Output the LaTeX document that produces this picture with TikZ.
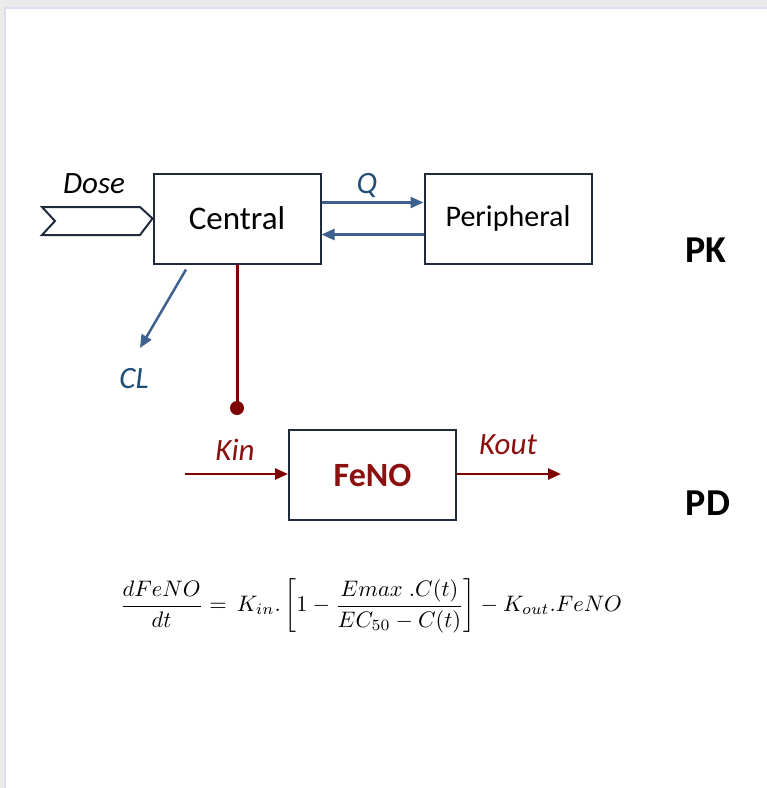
\documentclass[tikz,border=0pt]{standalone}
\usepackage{fontspec}
\setmainfont{Carlito}
\usepackage{amsmath}
\usepackage{graphicx}
\usetikzlibrary{arrows.meta,calc}
\definecolor{boxline}{HTML}{1F2B3A}
\definecolor{qblue}{HTML}{1F4E79}
\definecolor{arrblue}{HTML}{3E6290}
\definecolor{dred}{HTML}{7F0000}
\definecolor{tred}{HTML}{8B1010}
\definecolor{shadow}{HTML}{EBEBEB}
\definecolor{frameline}{HTML}{DCDFF0}
\tikzset{
  compbox/.style={draw=boxline, line width=2pt, fill=white, minimum width=167pt, minimum height=90pt, inner sep=0pt},
  bluearrow/.style={draw=arrblue, line width=2.5pt, -{Triangle[length=13pt,width=11pt]}},
  redarrow/.style={draw=dred, line width=2.5pt, -{Triangle[length=13pt,width=11pt]}},
  bluelabel/.style={text=qblue, font=\fontsize{31}{34}\selectfont\itshape},
  redlabel/.style={text=tred, font=\fontsize{31}{34}\selectfont\itshape},
  sidelabel/.style={text=black, font=\fontsize{38}{40}\selectfont\bfseries}
}
\begin{document}
\begin{tikzpicture}[x=1pt,y=-1pt]
\useasboundingbox (0,0) rectangle (767,788);
\fill[shadow] (0,0) rectangle (767,788);
\filldraw[fill=white, draw=frameline, line width=2pt] (5,8) rectangle (770,792);

\node[compbox, font=\fontsize{33}{36}\selectfont] (central) at (237,218.5) {Central};
\node[compbox, font=\fontsize{30}{33}\selectfont] (peri) at (508,218.5) {Peripheral};
\node[compbox, text=tred, font=\fontsize{34}{36}\selectfont\bfseries] (feno) at (372.5,475) {FeNO};

% Dose chevron
\draw[boxline, line width=2pt, fill=white, line join=miter]
  (42,207) -- (140,207) -- (central.west) -- (140,235) -- (42,235) -- (55,221) -- cycle;
\node[font=\fontsize{31}{34}\selectfont\itshape] (dose) at (94,184) {Dose};

% Q arrows
\draw[bluearrow] ($(central.north east)+(0,30)$) -- ($(peri.north west)+(0,30)$);
\draw[bluearrow] ($(peri.north west)+(0,62)$) -- ($(central.north east)+(0,62)$);
\node[bluelabel] (q) at (367,185) {Q};

% CL arrow
\coordinate (clend) at (140,348);
\draw[bluearrow] ($(central.south)+(-51,5)$) -- (clend);
\node[bluelabel] (cl) at (134,379) {CL};

% effect link
\coordinate (ball) at (237,408);
\draw[dred, line width=3pt] (central.south) -- (ball);
\fill[dred] (ball) circle (7pt);

% Kin / Kout
\coordinate (kinstart) at (185,474);
\coordinate (koutend) at (561,474);
\draw[redarrow] (kinstart) -- (feno.west |- kinstart);
\draw[redarrow] (feno.east |- koutend) -- (koutend);
\node[redlabel] (kin) at (235,450) {Kin};
\node[redlabel] (kout) at (508,445) {Kout};

% PK / PD
\node[sidelabel] (pk) at (706,250) {PK};
\node[sidelabel] (pd) at (708,503) {PD};

% equation
\node[inner sep=0pt] (eq) at (371,606)
 {\resizebox{502pt}{!}{$\displaystyle \frac{dFeNO}{dt} = \,K_{in}.\left[1-\frac{Emax\;.C(t)}{EC_{50}-C(t)}\right]-K_{out}.FeNO$}};
\end{tikzpicture}
\end{document}
